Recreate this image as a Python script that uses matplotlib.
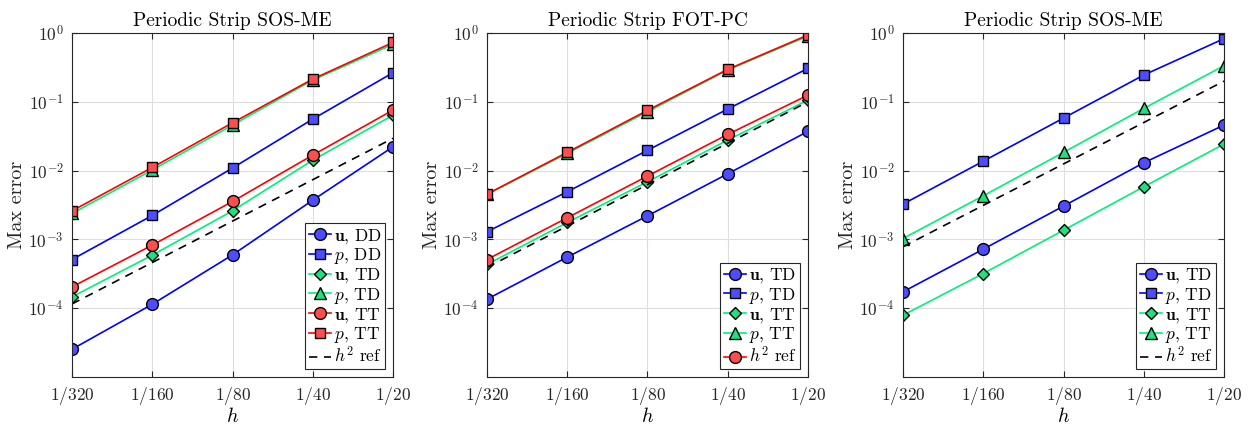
import numpy as np
import matplotlib
matplotlib.use("Agg")
import matplotlib.pyplot as plt

plt.rcParams["font.family"] = "cmr10"
plt.rcParams["mathtext.fontset"] = "cm"
plt.rcParams["axes.unicode_minus"] = False
plt.rcParams["axes.formatter.use_mathtext"] = True

# mesh sizes h = 1/320 ... 1/20
h = np.array([1/320, 1/160, 1/80, 1/40, 1/20])
h_labels = [r"$1/320$", r"$1/160$", r"$1/80$", r"$1/40$", r"$1/20$"]

# SOS-ME, first panel
sos_u_dd = [2.53e-5, 1.14e-4, 5.96e-4, 3.72e-3, 2.22e-2]
sos_p_dd = [5.1e-4, 2.23e-3, 1.09e-2, 5.61e-2, 0.265]
sos_u_td = [1.46e-4, 5.9e-4, 2.6e-3, 1.42e-2, 0.064]
sos_p_td = [2.38e-3, 1.02e-2, 4.59e-2, 0.207, 0.685]
sos_u_tt = [2.04e-4, 8.25e-4, 3.56e-3, 1.68e-2, 0.0759]
sos_p_tt = [2.6e-3, 1.11e-2, 4.96e-2, 0.214, 0.73]
sos_ref_c = 11.8

# FOT-PC
fot_u_td = [1.35e-4, 5.52e-4, 2.2e-3, 8.98e-3, 3.72e-2]
fot_p_td = [1.29e-3, 4.92e-3, 1.97e-2, 7.85e-2, 0.306]
fot_u_tt = [4.32e-4, 1.76e-3, 6.87e-3, 2.78e-2, 0.106]
fot_p_tt = [4.5e-3, 1.78e-2, 7.16e-2, 0.29, 0.904]
fot_red_u = [5.1e-4, 2.06e-3, 8.32e-3, 3.36e-2, 0.125]
fot_red_p = [4.55e-3, 1.84e-2, 7.5e-2, 0.296, 0.935]
fot_ref_c = 40.0

# SOS-ME, third panel
sos2_u_td = [1.73e-4, 7.21e-4, 3.05e-3, 1.3e-2, 4.59e-2]
sos2_p_td = [3.26e-3, 1.37e-2, 5.8e-2, 0.245, 0.828]
sos2_u_tt = [7.9e-5, 3.19e-4, 1.36e-3, 5.82e-3, 2.43e-2]
sos2_p_tt = [1.03e-3, 4.3e-3, 1.84e-2, 8.02e-2, 0.335]
sos2_ref_c = 80.0

BLUE = ("#0000ff", "#4d4dff")
GREEN = ("#00f07a", "#1ee07c")
RED = ("#ff0000", "#ff4d4d")
MARKERS = {"o": 8.5, "s": 7.5, "D": 6.5, "^": 8.5}
AXCOL = "#262626"


def curve(ax, y, colors, marker):
    line, = ax.plot(h, y, color=colors[0], lw=1.2, marker=marker,
                    ms=MARKERS[marker], mfc=colors[1], mec="black", mew=1.0)
    return line


def ref_line(ax, c):
    line, = ax.plot(h, c * h**2, "--", color="black", lw=1.2,
                    dashes=(5, 4))
    return line


def style(ax, title):
    ax.set_xscale("log")
    ax.set_yscale("log")
    ax.set_xlim(h[0], h[-1])
    ax.set_ylim(1e-5, 1)
    ax.set_xticks(h)
    ax.set_xticklabels(h_labels)
    ax.set_yticks([1e-4, 1e-3, 1e-2, 1e-1, 1])
    ax.minorticks_off()
    ax.tick_params(direction="in", top=True, right=True, length=4,
                   labelsize=12.5, colors=AXCOL, pad=6)
    ax.grid(True, color="#dedede", lw=0.8)
    ax.set_axisbelow(True)
    for s in ax.spines.values():
        s.set_color(AXCOL)
        s.set_linewidth(0.8)
    ax.set_title(title, fontsize=14, pad=5)
    ax.set_xlabel(r"$h$", fontsize=14.5, labelpad=0)
    ax.set_ylabel("Max error", fontsize=14.5, labelpad=2, color=AXCOL)


def legend(ax, handles, labels):
    leg = ax.legend(handles, labels, loc="lower right", fontsize=12.5,
                    handlelength=1.3, handletextpad=0.15, borderpad=0.2,
                    labelspacing=0.02, borderaxespad=0.45, fancybox=False,
                    framealpha=1.0, edgecolor=AXCOL)
    leg.get_frame().set_linewidth(0.8)


fig = plt.figure(figsize=(12.57, 4.28), dpi=100)
w, hgt, bot = 0.2554, 0.8037, 0.1192
ax1 = fig.add_axes([0.0573, bot, w, hgt])
ax2 = fig.add_axes([0.3874, bot, w, hgt])
ax3 = fig.add_axes([0.7184, bot, w, hgt])

lines = [curve(ax1, sos_u_dd, BLUE, "o"),
         curve(ax1, sos_p_dd, BLUE, "s"),
         curve(ax1, sos_u_td, GREEN, "D"),
         curve(ax1, sos_p_td, GREEN, "^"),
         curve(ax1, sos_u_tt, RED, "o"),
         curve(ax1, sos_p_tt, RED, "s"),
         ref_line(ax1, sos_ref_c)]
style(ax1, "Periodic Strip SOS-ME")
legend(ax1, lines, [r"$\mathbf{u}$, DD", r"$p$, DD", r"$\mathbf{u}$, TD",
                    r"$p$, TD", r"$\mathbf{u}$, TT", r"$p$, TT",
                    r"$h^2$ ref"])

lines = [curve(ax2, fot_u_td, BLUE, "o"),
         curve(ax2, fot_p_td, BLUE, "s"),
         curve(ax2, fot_u_tt, GREEN, "D"),
         curve(ax2, fot_p_tt, GREEN, "^"),
         curve(ax2, fot_red_u, RED, "o"),
         curve(ax2, fot_red_p, RED, "s")]
ref_line(ax2, fot_ref_c)
style(ax2, "Periodic Strip FOT-PC")
legend(ax2, lines[:5], [r"$\mathbf{u}$, TD", r"$p$, TD", r"$\mathbf{u}$, TT",
                        r"$p$, TT", r"$h^2$ ref"])

lines = [curve(ax3, sos2_u_td, BLUE, "o"),
         curve(ax3, sos2_p_td, BLUE, "s"),
         curve(ax3, sos2_u_tt, GREEN, "D"),
         curve(ax3, sos2_p_tt, GREEN, "^"),
         ref_line(ax3, sos2_ref_c)]
style(ax3, "Periodic Strip SOS-ME")
legend(ax3, lines, [r"$\mathbf{u}$, TD", r"$p$, TD", r"$\mathbf{u}$, TT",
                    r"$p$, TT", r"$h^2$ ref"])

fig.savefig("out.png", dpi=100)
